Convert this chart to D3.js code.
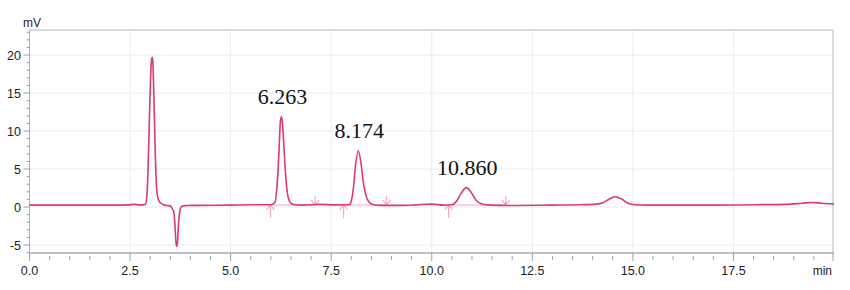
<!DOCTYPE html>
<html>
<head>
<meta charset="utf-8">
<script src="https://cdn.jsdelivr.net/npm/d3@7"></script>
<style>
  html, body { margin: 0; padding: 0; background: #fff; }
  svg { display: block; }
</style>
</head>
<body>
<svg id="chart" width="850" height="290"></svg>
<script>
// ---- data ----
const times = [0.0, 1.0, 2.0, 2.45, 2.6, 2.75, 2.88, 2.92, 2.95, 2.98, 3.01, 3.035, 3.05, 3.065, 3.09, 3.12, 3.15, 3.18, 3.22, 3.27, 3.33, 3.42, 3.5, 3.55, 3.585, 3.615, 3.64, 3.66, 3.68, 3.705, 3.735, 3.77, 3.82, 3.9, 4.2, 5.0, 5.6, 6.0, 6.1, 6.15, 6.2, 6.235, 6.263, 6.29, 6.33, 6.38, 6.43, 6.5, 6.6, 6.8, 7.2, 7.6, 7.95, 8.0, 8.05, 8.1, 8.174, 8.24, 8.3, 8.37, 8.45, 8.55, 8.75, 9.2, 9.6, 10.0, 10.3, 10.5, 10.62, 10.73, 10.86, 10.99, 11.1, 11.25, 11.45, 12.0, 13.0, 13.7, 14.1, 14.25, 14.4, 14.55, 14.72, 14.88, 15.05, 15.3, 16.0, 17.0, 18.0, 18.8, 19.2, 19.45, 19.7, 20.0];
const signal = [0.25, 0.25, 0.25, 0.28, 0.35, 0.28, 0.35, 1.6, 5.5, 11.5, 17.0, 19.4, 19.7, 19.2, 15.0, 8.5, 3.5, 1.5, 0.8, 0.5, 0.3, 0.2, 0.15, -0.2, -0.6, -2.2, -4.6, -5.2, -4.6, -2.2, -0.6, 0.0, 0.15, 0.2, 0.22, 0.25, 0.3, 0.3, 0.6, 2.5, 7.0, 11.1, 11.9, 11.0, 7.4, 3.4, 1.3, 0.5, 0.3, 0.25, 0.35, 0.28, 0.3, 0.8, 2.4, 5.2, 7.4, 5.8, 3.2, 1.4, 0.6, 0.3, 0.22, 0.22, 0.28, 0.38, 0.25, 0.3, 0.8, 1.8, 2.55, 1.85, 0.9, 0.4, 0.25, 0.2, 0.25, 0.3, 0.38, 0.55, 1.0, 1.35, 1.05, 0.5, 0.3, 0.25, 0.25, 0.25, 0.3, 0.35, 0.5, 0.6, 0.5, 0.42];

const peakTimes = [6.263, 8.174, 10.860];
const peakHeights = [11.9, 7.4, 2.55];
const peakLabels = ["6.263", "8.174", "10.860"];
const peakStarts = [5.99, 7.81, 10.42];
const peakEnds = [7.10, 8.88, 11.84];
const integBaseline = 0.27;

const xMajorTicks = [0, 2.5, 5, 7.5, 10, 12.5, 15, 17.5];
const xTickLabels = ["0.0", "2.5", "5.0", "7.5", "10.0", "12.5", "15.0", "17.5"];
const yMajorTicks = [-5, 0, 5, 10, 15, 20];
const yTickLabels = ["-5", "0", "5", "10", "15", "20"];

// ---- scales ----
const svg = d3.select("#chart");
const x = d3.scaleLinear().domain([0, 20]).range([29.5, 834]);
const y = d3.scaleLinear().domain([-6.05, 23.3]).range([253, 30]);
const x0 = x(0), x1 = 833, yTop = y(23.3), yBot = y(-6.05);

const gridColor = "#ececec";
const axisColor = "#aab6b6";
const textColor = "#222";
const font = "'Liberation Sans', Arial, sans-serif";

// grid
svg.append("g").selectAll("line").data(xMajorTicks.filter(d => d > 0)).join("line")
  .attr("x1", d => x(d)).attr("x2", d => x(d)).attr("y1", yTop).attr("y2", yBot)
  .attr("stroke", gridColor).attr("stroke-width", 1);
svg.append("g").selectAll("line").data(yMajorTicks).join("line")
  .attr("x1", x0).attr("x2", x1).attr("y1", d => y(d)).attr("y2", d => y(d))
  .attr("stroke", gridColor).attr("stroke-width", 1);

// frame
svg.append("line").attr("x1", x0).attr("x2", x1).attr("y1", yTop).attr("y2", yTop)
  .attr("stroke", "#c8d2d2").attr("stroke-width", 1.5);
svg.append("line").attr("x1", x1).attr("x2", x1).attr("y1", yTop).attr("y2", yBot)
  .attr("stroke", "#c8d2d2").attr("stroke-width", 1.5);
svg.append("line").attr("x1", x0).attr("x2", x0).attr("y1", yTop).attr("y2", yBot)
  .attr("stroke", axisColor).attr("stroke-width", 1);
svg.append("line").attr("x1", x0).attr("x2", x1 + 1).attr("y1", yBot).attr("y2", yBot)
  .attr("stroke", "#b9c4c4").attr("stroke-width", 2);

// y ticks
const yMinor = d3.range(-6, 24, 1).filter(v => !yMajorTicks.includes(v));
svg.append("g").selectAll("line").data(yMinor).join("line")
  .attr("x1", x0 - 3).attr("x2", x0).attr("y1", d => y(d)).attr("y2", d => y(d))
  .attr("stroke", "#9aa5a5").attr("stroke-width", 1);
svg.append("g").selectAll("line").data(yMajorTicks).join("line")
  .attr("x1", x0 - 6).attr("x2", x0).attr("y1", d => y(d)).attr("y2", d => y(d))
  .attr("stroke", "#9aa5a5").attr("stroke-width", 1);
svg.append("g").selectAll("text").data(yMajorTicks).join("text")
  .attr("x", 21).attr("y", d => y(d) + 4.5)
  .attr("text-anchor", "end").attr("font-family", font).attr("font-size", 12.5)
  .attr("fill", textColor).text((d, i) => yTickLabels[i]);

// x ticks
const xMinor = d3.range(0.5, 20, 0.5).filter(v => !xMajorTicks.includes(v));
svg.append("g").selectAll("line").data(xMinor).join("line")
  .attr("x1", d => x(d)).attr("x2", d => x(d)).attr("y1", yBot + 3).attr("y2", yBot + 7)
  .attr("stroke", "#9aa5a5").attr("stroke-width", 1);
svg.append("g").selectAll("line").data(xMajorTicks.concat([20])).join("line")
  .attr("x1", d => Math.min(x(d), x1)).attr("x2", d => Math.min(x(d), x1))
  .attr("y1", yBot).attr("y2", yBot + 8)
  .attr("stroke", "#9aa5a5").attr("stroke-width", 1);
svg.append("g").selectAll("text").data(xMajorTicks).join("text")
  .attr("x", d => x(d)).attr("y", 275)
  .attr("text-anchor", "middle").attr("font-family", font).attr("font-size", 12.5)
  .attr("fill", textColor).text((d, i) => xTickLabels[i]);

// axis unit labels
svg.append("text").attr("x", 23).attr("y", 26.5).attr("font-family", font)
  .attr("font-size", 12).attr("fill", textColor).text("mV");
svg.append("text").attr("x", 832).attr("y", 275).attr("text-anchor", "end")
  .attr("font-family", font).attr("font-size", 12).attr("fill", textColor).text("min");

// integration baselines & markers
const pink = "#f4a9cb";
peakStarts.forEach((s, i) => {
  svg.append("line").attr("x1", x(s)).attr("x2", x(peakEnds[i]))
    .attr("y1", y(integBaseline)).attr("y2", y(integBaseline))
    .attr("stroke", pink).attr("stroke-width", 1.2);
});
const arrowG = svg.append("g").attr("stroke", pink).attr("stroke-width", 1.2).attr("fill", "none");
peakStarts.forEach(s => {
  const ax = x(s), ay = y(integBaseline);
  arrowG.append("path").attr("d", `M${ax},${ay + 13} L${ax},${ay} M${ax - 4},${ay + 5} L${ax},${ay} L${ax + 4},${ay + 5}`);
});
peakEnds.forEach(s => {
  const ax = x(s), ay = y(integBaseline);
  arrowG.append("path").attr("d", `M${ax},${ay - 9} L${ax},${ay} M${ax - 4},${ay - 5} L${ax},${ay} L${ax + 4},${ay - 5}`);
});

// trace
const pts = times.map((t, i) => [t, signal[i]]);
const line = d3.line().x(d => x(d[0])).y(d => y(d[1])).curve(d3.curveMonotoneX);
svg.append("path").datum(pts).attr("d", line)
  .attr("fill", "none").attr("stroke", "#dc3a72").attr("stroke-width", 1.6)
  .attr("stroke-linejoin", "round");

// peak labels
svg.append("g").selectAll("text").data(peakTimes).join("text")
  .attr("x", d => x(d) + 1).attr("y", (d, i) => y(peakHeights[i]) - 12.5)
  .attr("text-anchor", "middle").attr("font-family", "'Liberation Serif', 'Times New Roman', serif")
  .attr("font-size", 22).attr("fill", "#111").text((d, i) => peakLabels[i]);
</script>
</body>
</html>
